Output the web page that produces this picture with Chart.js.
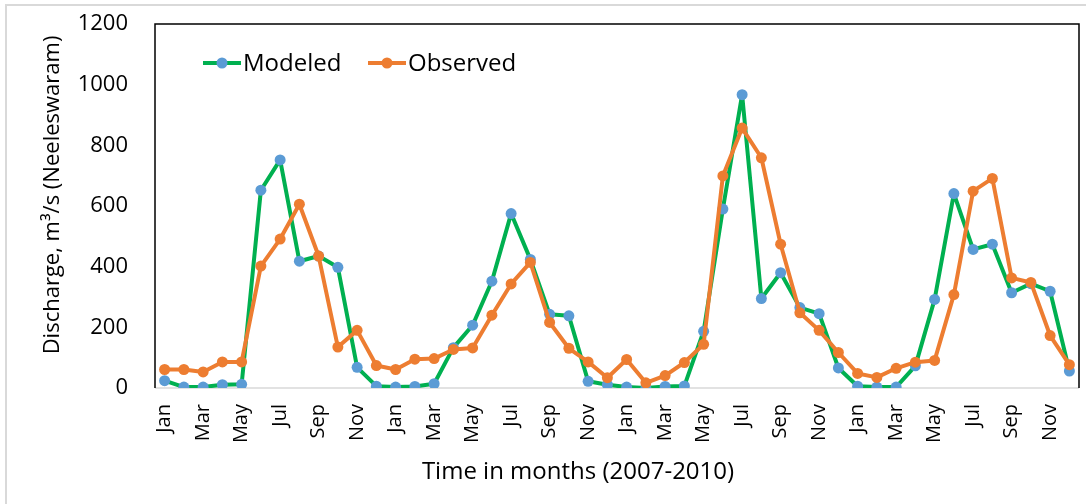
<!DOCTYPE html>
<html>
<head>
<meta charset="utf-8">
<title>Discharge (Neeleswaram), 2007-2010</title>
<script src="https://cdn.jsdelivr.net/npm/chart.js@4/dist/chart.umd.min.js"></script>
<style>
  html, body { margin: 0; padding: 0; background: #fff; overflow: hidden; }
  #wrap { position: relative; width: 1086px; height: 504px; }
</style>
</head>
<body>
<div id="wrap"><canvas id="chart" width="1086" height="504"></canvas></div>
<script>
// Monthly discharge, Jan 2007 - Dec 2010 (m3/s)
const months = ['Jan','Feb','Mar','Apr','May','Jun','Jul','Aug','Sep','Oct','Nov','Dec'];
const years = [2007, 2008, 2009, 2010];

const modeled = [
  24, 3, 3, 11, 12, 652, 752, 418, 435, 398, 68, 6,
  3, 5, 14, 133, 207, 352, 575, 424, 243, 238, 22, 11,
  3, 0, 5, 7, 187, 590, 967, 295, 380, 265, 245, 66,
  6, 3, 3, 73, 292, 641, 457, 474, 314, 344, 319, 56
];
const observed = [
  61, 61, 53, 86, 86, 402, 491, 606, 435, 135, 190, 74,
  61, 95, 97, 127, 132, 240, 343, 414, 216, 131, 86, 34,
  94, 17, 41, 84, 144, 699, 857, 759, 474, 248, 190, 117,
  48, 35, 65, 85, 91, 308, 649, 691, 363, 348, 173, 77
];
const yTicks = [0, 200, 400, 600, 800, 1000, 1200];

const categories = [];
years.forEach(y => months.forEach(m => categories.push(m + ' ' + y)));

const GREEN = '#00B050', BLUE = '#5B9BD5', ORANGE = '#ED7D31';
const FONT = '"Open Sans", "DejaVu Sans", sans-serif';

// Frame, axis titles and the in-plot legend
const decor = {
  id: 'decor',
  beforeDraw(chart) {
    const ctx = chart.ctx;
    ctx.save();
    ctx.strokeStyle = '#d9d9d9';
    ctx.lineWidth = 2;
    ctx.beginPath();
    ctx.moveTo(6, 600); ctx.lineTo(6, 5); ctx.lineTo(1200, 5);
    ctx.stroke();
    ctx.restore();
  },
  beforeDatasetsDraw(chart) {
    const { ctx, chartArea: a } = chart;
    ctx.save();
    ctx.strokeStyle = '#d9d9d9';
    ctx.lineWidth = 1.5;
    ctx.beginPath();
    ctx.moveTo(a.left, a.bottom); ctx.lineTo(a.right, a.bottom);
    ctx.stroke();
    ctx.strokeStyle = '#000';
    ctx.lineWidth = 1.5;
    ctx.beginPath();
    ctx.moveTo(a.left, a.bottom); ctx.lineTo(a.left, a.top);
    ctx.lineTo(a.right, a.top); ctx.lineTo(a.right, a.bottom);
    ctx.stroke();
    ctx.restore();
  },
  afterDraw(chart) {
    const { ctx } = chart;
    ctx.save();
    ctx.fillStyle = '#000';
    ctx.textAlign = 'center';
    ctx.textBaseline = 'middle';
    // axis titles
    ctx.font = '24px ' + FONT;
    ctx.fillText('Time in months (2007-2010)', 578, 472);
    ctx.font = '22px ' + FONT;
    ctx.translate(53, 195);
    ctx.rotate(-Math.PI / 2);
    ctx.fillText('Discharge, m\u00B3/s (Neeleswaram)', 0, 0);
    ctx.restore();

    // legend: line + marker + label
    const items = [
      { label: chart.data.datasets[0].label, line: GREEN, dot: BLUE, x0: 203 },
      { label: chart.data.datasets[1].label, line: ORANGE, dot: ORANGE, x0: 368 }
    ];
    const y = 63;
    ctx.save();
    ctx.font = '24px ' + FONT;
    ctx.textBaseline = 'middle';
    ctx.textAlign = 'left';
    items.forEach(it => {
      ctx.strokeStyle = it.line;
      ctx.lineWidth = 4;
      ctx.beginPath(); ctx.moveTo(it.x0, y); ctx.lineTo(it.x0 + 38, y); ctx.stroke();
      ctx.fillStyle = it.dot;
      ctx.beginPath(); ctx.arc(it.x0 + 19, y, 5.5, 0, Math.PI * 2); ctx.fill();
      ctx.fillStyle = '#000';
      ctx.fillText(it.label, it.x0 + 40, y + 1);
    });
    ctx.restore();
  }
};

new Chart(document.getElementById('chart'), {
  type: 'line',
  data: {
    labels: categories,
    datasets: [
      {
        label: 'Modeled',
        data: modeled,
        borderColor: GREEN,
        backgroundColor: BLUE,
        pointBackgroundColor: BLUE,
        pointBorderWidth: 0,
        pointRadius: 5.5,
        borderWidth: 4,
        borderJoinStyle: 'round',
        tension: 0,
        order: 1
      },
      {
        label: 'Observed',
        data: observed,
        borderColor: ORANGE,
        backgroundColor: ORANGE,
        pointBackgroundColor: ORANGE,
        pointBorderWidth: 0,
        pointRadius: 5.5,
        borderWidth: 4,
        borderJoinStyle: 'round',
        tension: 0,
        order: 0
      }
    ]
  },
  options: {
    responsive: false,
    animation: false,
    layout: { padding: { left: 0, top: 24, right: 7, bottom: 0 } },
    plugins: { legend: { display: false }, tooltip: { enabled: false } },
    scales: {
      x: {
        offset: true,
        grid: { display: false, drawTicks: false },
        border: { display: false },
        ticks: {
          autoSkip: false,
          maxRotation: 90,
          minRotation: 90,
          padding: 16,
          color: '#000',
          font: { family: FONT, size: 20 },
          callback: (v, i) => (i % 2 === 0 ? months[i % 12] : '')
        },
        afterFit(s) { s.height = 116; s.paddingLeft = 0; s.paddingRight = 0; }
      },
      y: {
        min: 0,
        max: 1200,
        afterBuildTicks(s) { s.ticks = yTicks.map(v => ({ value: v })); },
        grid: { display: false, drawTicks: false },
        border: { display: false },
        ticks: {
          padding: 27,
          color: '#000',
          font: { family: FONT, size: 22 },
          callback: v => String(v)
        },
        afterFit(s) { s.width = 155; s.paddingTop = 0; s.paddingBottom = 0; }
      }
    }
  },
  plugins: [decor]
});
</script>
</body>
</html>
